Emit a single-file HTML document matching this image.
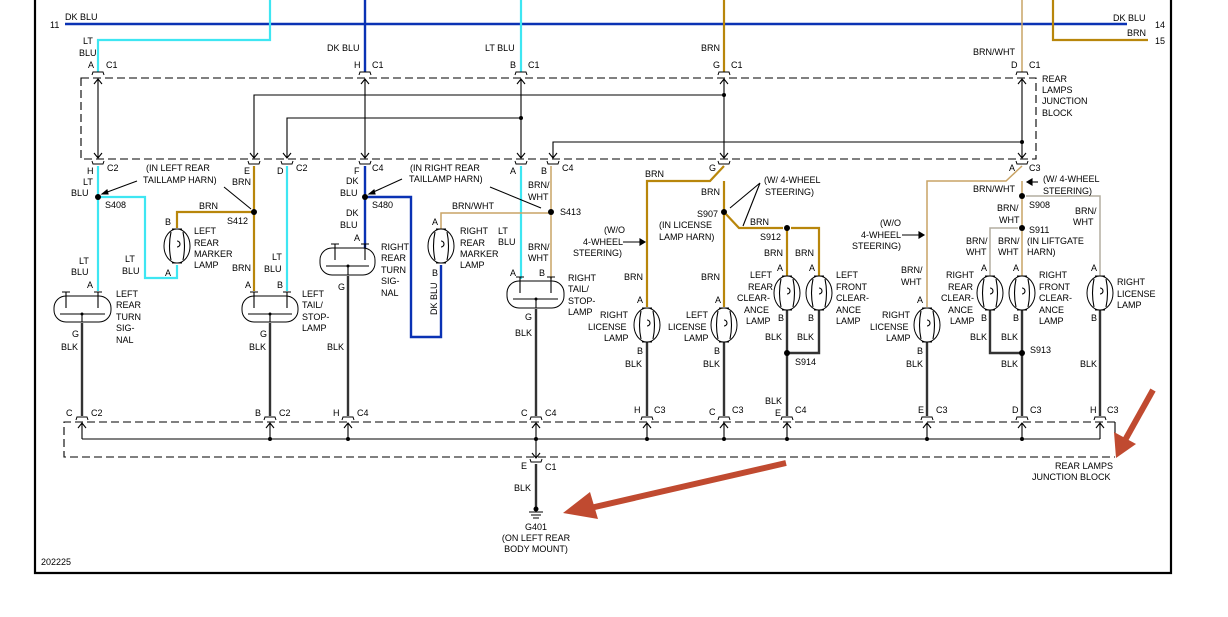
<!DOCTYPE html>
<html><head><meta charset="utf-8"><style>
html,body{margin:0;padding:0;background:#fff;width:1228px;height:617px;overflow:hidden}
svg{display:block}
text{font-family:"Liberation Sans",sans-serif;font-size:9px;fill:#000}
.lb{stroke:#3ee6f2;stroke-width:2.2;fill:none}
.db{stroke:#0a32b4;stroke-width:2.4;fill:none}
.br{stroke:#b8860b;stroke-width:2.2;fill:none}
.bw{stroke:#c9a466;stroke-width:1.5;fill:none}
.gw{stroke:#b4ada0;stroke-width:1.5;fill:none}
.bk{stroke:#333;stroke-width:2.4;fill:none}
.th{stroke:#000;stroke-width:1.1;fill:none}
.ds{stroke:#000;stroke-width:1.1;fill:none;stroke-dasharray:8 4}
.cap{stroke:#000;stroke-width:1;fill:#fff}
.lamp{stroke:#000;stroke-width:1;fill:#fff}
</style></head><body>
<svg width="1228" height="617" viewBox="0 0 1228 617" xmlns="http://www.w3.org/2000/svg">
<!-- border -->
<path d="M35 0 V573 H1171 V0" stroke="#000" stroke-width="2.2" fill="none"/>

<!-- dashed boxes -->
<path class="ds" d="M81 78 H1036 V159 H81 Z"/>
<path class="ds" d="M1115 422 H64 V457 H1115"/>
<path class="th" d="M1115 422 V433"/>

<!-- top wires -->
<path class="db" d="M65 24 H1127"/>
<path class="db" d="M365 0 V72"/>
<path class="lb" d="M270 0 V40 H98 V72"/>
<path class="lb" d="M521 0 V72"/>
<path class="br" d="M724 0 V72"/>
<path class="bw" d="M1022 0 V72"/>
<path class="br" d="M1053 0 V40 H1148"/>

<!-- inner box wiring -->
<path class="th" d="M98 79 V158 M365 79 V158 M521 79 V158 M724 79 V158 M1022 79 V158"/>
<path class="th" d="M254 158 V95 H724 M287 158 V118 H521 M553 158 V142 H1022"/>
<g class="th">
<path d="M94 84 L98 79 L102 84 M361 84 L365 79 L369 84 M517 84 L521 79 L525 84 M720 84 L724 79 L728 84 M1018 84 L1022 79 L1026 84"/>
<path d="M94 153 L98 158 L102 153 M250 153 L254 158 L258 153 M283 153 L287 158 L291 153 M361 153 L365 158 L369 153 M517 153 L521 158 L525 153 M549 153 L553 158 L557 153 M720 153 L724 158 L728 153 M1018 153 L1022 158 L1026 153"/>
</g>

<!-- lower wires -->
<path class="lb" d="M98 166 V291"/>
<path class="lb" d="M98 197 H145 V278 H177 V265"/>
<path class="lb" d="M287 166 V291"/>
<path class="lb" d="M521 166 V279"/>
<path class="db" d="M365 166 V248"/>
<path class="db" d="M365 197 H411 V337 H441 V265"/>
<path class="br" d="M254 166 V291"/>
<path class="br" d="M177 228 V212 H254"/>
<path class="br" d="M724 166 L710 181 H647 V307"/>
<path class="br" d="M724 181 V307"/>
<path class="br" d="M724 212 L739 228 H783 M791 228 H819 V276"/>
<path class="br" d="M787 228 V276"/>
<path class="bw" d="M441 229 V213 H551"/>
<path class="bw" d="M551 166 V279"/>
<path class="bw" d="M1022 166 L1006 181 H927 V307"/>
<path class="bw" d="M1022 181 V276"/>
<path class="gw" d="M1026 196 H1100 V276"/>
<path class="gw" d="M1018 228 H990 V276"/>

<!-- black grounds -->
<path class="bk" d="M82 323 V416 M270 323 V416 M348 276 V416 M536 309 V416 M647 342 V416 M724 342 V416 M787 310 V416 M927 342 V416 M1022 310 V416 M1100 310 V416"/>
<path class="bk" d="M819 310 V353 H787 M990 310 V353 H1022"/>
<path class="bk" d="M536 464 V507"/>

<!-- bottom inner -->
<path class="th" d="M82 439 H1100 M82 423 V439 M270 423 V439 M348 423 V439 M536 423 V458 M647 423 V439 M724 423 V439 M787 423 V439 M927 423 V439 M1022 423 V439 M1100 423 V439"/>
<path class="th" d="M78 428 L82 423 L86 428 M266 428 L270 423 L274 428 M344 428 L348 423 L352 428 M532 428 L536 423 L540 428 M643 428 L647 423 L651 428 M720 428 L724 423 L728 428 M783 428 L787 423 L791 428 M923 428 L927 423 L931 428 M1018 428 L1022 423 L1026 428 M1096 428 L1100 423 L1104 428 M532 453 L536 458 L540 453"/>

<!-- connector caps -->
<g class="cap">
<path d="M92 75 l1 -3 h10 l1 3 M359 75 l1 -3 h10 l1 3 M515 75 l1 -3 h10 l1 3 M718 75 l1 -3 h10 l1 3 M1016 75 l1 -3 h10 l1 3"/>
<path d="M92 161 l1 3 h10 l1 -3 M248 161 l1 3 h10 l1 -3 M281 161 l1 3 h10 l1 -3 M359 161 l1 3 h10 l1 -3 M515 161 l1 3 h10 l1 -3 M547 161 l1 3 h10 l1 -3 M718 161 l1 3 h10 l1 -3 M1016 161 l1 3 h10 l1 -3"/>
<path d="M76 420 l1 -3 h10 l1 3 M264 420 l1 -3 h10 l1 3 M342 420 l1 -3 h10 l1 3 M530 420 l1 -3 h10 l1 3 M641 420 l1 -3 h10 l1 3 M718 420 l1 -3 h10 l1 3 M781 420 l1 -3 h10 l1 3 M921 420 l1 -3 h10 l1 3 M1016 420 l1 -3 h10 l1 3 M1094 420 l1 -3 h10 l1 3"/>
<path d="M530 459 l1 3 h10 l1 -3"/>
</g>

<!-- dots -->
<g fill="#000">
<circle cx="724" cy="95" r="2"/><circle cx="521" cy="118" r="2"/><circle cx="1022" cy="142" r="2"/>
<circle cx="98" cy="197" r="3"/><circle cx="254" cy="212" r="3"/><circle cx="365" cy="197" r="3"/><circle cx="551" cy="212" r="3"/>
<circle cx="724" cy="212" r="3"/><circle cx="787" cy="228" r="3"/><circle cx="1022" cy="196" r="3"/><circle cx="1022" cy="228" r="3"/>
<circle cx="787" cy="353" r="3"/><circle cx="1022" cy="353" r="3"/>
<circle cx="270" cy="439" r="2"/><circle cx="348" cy="439" r="2"/><circle cx="536" cy="439" r="2"/><circle cx="647" cy="439" r="2"/><circle cx="724" cy="439" r="2"/><circle cx="787" cy="439" r="2"/><circle cx="927" cy="439" r="2"/><circle cx="1022" cy="439" r="2"/>
</g>

<!-- round lamps -->
<g class="lamp">
<ellipse cx="177" cy="246" rx="13" ry="17"/><ellipse cx="441" cy="246" rx="13" ry="17"/>
<ellipse cx="787" cy="293" rx="13" ry="17"/><ellipse cx="819" cy="293" rx="13" ry="17"/>
<ellipse cx="647" cy="325" rx="13" ry="17"/><ellipse cx="724" cy="325" rx="13" ry="17"/>
<ellipse cx="927" cy="325" rx="13" ry="17"/><ellipse cx="990" cy="293" rx="13" ry="17"/>
<ellipse cx="1022" cy="293" rx="13" ry="17"/><ellipse cx="1100" cy="293" rx="13" ry="17"/>
</g>
<g class="th" stroke-width="0.9">
<path d="M171 232 q-3 14 0 28 M183 232 q3 14 0 28 M177 241 a3 3 0 1 1 0 6"/>
<path d="M435 232 q-3 14 0 28 M447 232 q3 14 0 28 M441 241 a3 3 0 1 1 0 6"/>
<path d="M781 279 q-3 14 0 28 M793 279 q3 14 0 28 M787 288 a3 3 0 1 1 0 6"/>
<path d="M813 279 q-3 14 0 28 M825 279 q3 14 0 28 M819 288 a3 3 0 1 1 0 6"/>
<path d="M641 311 q-3 14 0 28 M653 311 q3 14 0 28 M647 320 a3 3 0 1 1 0 6"/>
<path d="M718 311 q-3 14 0 28 M730 311 q3 14 0 28 M724 320 a3 3 0 1 1 0 6"/>
<path d="M921 311 q-3 14 0 28 M933 311 q3 14 0 28 M927 320 a3 3 0 1 1 0 6"/>
<path d="M984 279 q-3 14 0 28 M996 279 q3 14 0 28 M990 288 a3 3 0 1 1 0 6"/>
<path d="M1016 279 q-3 14 0 28 M1028 279 q3 14 0 28 M1022 288 a3 3 0 1 1 0 6"/>
<path d="M1094 279 q-3 14 0 28 M1106 279 q3 14 0 28 M1100 288 a3 3 0 1 1 0 6"/>
</g>
<g class="cap">
<path d="M172 229 h10 M172 263 h10 M436 229 h10 M436 263 h10 M782 276 h10 M782 310 h10 M814 276 h10 M814 310 h10 M642 308 h10 M642 342 h10 M719 308 h10 M719 342 h10 M922 308 h10 M922 342 h10 M985 276 h10 M985 310 h10 M1017 276 h10 M1017 310 h10 M1095 276 h10 M1095 310 h10"/>
</g>

<!-- rect lamps -->
<g class="lamp">
<rect x="54" y="296" width="57" height="26" rx="12"/>
<rect x="242" y="296" width="56" height="26" rx="12"/>
<rect x="320" y="248" width="55" height="27" rx="12"/>
<rect x="507" y="281" width="57" height="27" rx="12"/>
</g>
<g class="th" stroke-width="0.9">
<path d="M60 314 H105 M82 314 V322 M66 292 V308 M98 292 V308 M62 292 h8 M94 292 h8"/>
<path d="M248 314 H292 M270 314 V322 M254 292 V308 M287 292 V308 M250 292 h8 M283 292 h8"/>
<path d="M326 266 H369 M348 266 V275 M335 244 V260 M365 244 V260 M331 244 h8 M361 244 h8"/>
<path d="M513 299 H558 M536 299 V308 M520 277 V293 M551 277 V293 M516 277 h8 M547 277 h8"/>
</g>
<g fill="#000"><circle cx="82" cy="314" r="1.5"/><circle cx="270" cy="314" r="1.5"/><circle cx="348" cy="266" r="1.5"/><circle cx="536" cy="299" r="1.5"/></g>

<!-- ground symbol -->
<path class="th" d="M529 512 h14 M531 515 h10 M533 518 h6"/>
<circle cx="536" cy="509" r="2.5" fill="#000"/>

<!-- small pointer arrows -->
<g class="th" stroke-width="0.9">
<path d="M137 181 L102 194"/><path d="M102 194 l5 -4 l1 4 z" fill="#000"/>
<path d="M224 187 L251 209"/>
<path d="M402 179 L369 194"/><path d="M369 194 l5 -4 l1 4 z" fill="#000"/>
<path d="M490 187 L541 208"/>
<path d="M760 183 L730 208 M760 183 L743 226"/>
<path d="M623 242 H645"/><path d="M645 242 l-5 -3 v6 z" fill="#000"/>
<path d="M902 235 H924"/><path d="M924 235 l-5 -3 v6 z" fill="#000"/>
<path d="M1038 182 H1028"/><path d="M1027 182 l5 -3 v6 z" fill="#000"/>
</g>

<!-- red arrows -->
<path d="M786 463 L586 509" stroke="#c04a30" stroke-width="6" fill="none"/>
<path d="M563 513 L590 492 L598 519 Z" fill="#c04a30"/>
<path d="M1153 390 L1124 442" stroke="#c04a30" stroke-width="6" fill="none"/>
<path d="M1116 458 L1114 432 L1136 444 Z" fill="#c04a30"/>

<!-- text -->
<g>
<text x="65" y="20">DK BLU</text><text x="50" y="28">11</text>
<text x="1113" y="21">DK BLU</text><text x="1155" y="28">14</text>
<text x="1127" y="36">BRN</text><text x="1155" y="44">15</text>
<text x="83" y="44">LT</text><text x="79" y="56">BLU</text>
<text x="88" y="68">A</text><text x="106" y="68">C1</text>
<text x="327" y="51">DK BLU</text><text x="354" y="68">H</text><text x="372" y="68">C1</text>
<text x="485" y="51">LT BLU</text><text x="510" y="68">B</text><text x="528" y="68">C1</text>
<text x="701" y="51">BRN</text><text x="713" y="68">G</text><text x="731" y="68">C1</text>
<text x="973" y="55">BRN/WHT</text><text x="1011" y="68">D</text><text x="1029" y="68">C1</text>
<text x="1042" y="82">REAR</text><text x="1042" y="93">LAMPS</text><text x="1042" y="104">JUNCTION</text><text x="1042" y="116">BLOCK</text>

<text x="87" y="174">H</text><text x="107" y="171">C2</text>
<text x="83" y="185">LT</text><text x="71" y="196">BLU</text><text x="105" y="208">S408</text>
<text x="146" y="171">(IN LEFT REAR</text><text x="143" y="183">TAILLAMP HARN)</text>
<text x="244" y="174">E</text><text x="232" y="185">BRN</text>
<text x="277" y="174">D</text><text x="296" y="171">C2</text>
<text x="199" y="209">BRN</text><text x="227" y="224">S412</text>
<text x="165" y="225">B</text>
<text x="194" y="234">LEFT</text><text x="194" y="246">REAR</text><text x="194" y="257">MARKER</text><text x="194" y="268">LAMP</text>
<text x="79" y="264">LT</text><text x="71" y="275">BLU</text>
<text x="125" y="262">LT</text><text x="122" y="274">BLU</text><text x="165" y="276">A</text>
<text x="87" y="288">A</text>
<text x="116" y="297">LEFT</text><text x="116" y="308">REAR</text><text x="116" y="320">TURN</text><text x="116" y="331">SIG-</text><text x="116" y="343">NAL</text>
<text x="72" y="337">G</text><text x="61" y="350">BLK</text>
<text x="232" y="271">BRN</text><text x="272" y="260">LT</text><text x="264" y="272">BLU</text>
<text x="245" y="288">A</text><text x="277" y="288">B</text>
<text x="302" y="297">LEFT</text><text x="302" y="308">TAIL/</text><text x="302" y="320">STOP-</text><text x="302" y="331">LAMP</text>
<text x="260" y="337">G</text><text x="249" y="350">BLK</text>

<text x="354" y="174">F</text><text x="372" y="171">C4</text>
<text x="346" y="184">DK</text><text x="340" y="196">BLU</text><text x="372" y="208">S480</text>
<text x="346" y="216">DK</text><text x="340" y="228">BLU</text><text x="354" y="241">A</text>
<text x="410" y="171">(IN RIGHT REAR</text><text x="409" y="182">TAILLAMP HARN)</text>
<text x="381" y="250">RIGHT</text><text x="381" y="261">REAR</text><text x="381" y="273">TURN</text><text x="381" y="284">SIG-</text><text x="381" y="296">NAL</text>
<text x="338" y="290">G</text><text x="327" y="350">BLK</text>
<text x="437" y="315" transform="rotate(-90 437 315)">DK BLU</text>
<text x="452" y="209">BRN/WHT</text><text x="432" y="225">A</text><text x="432" y="276">B</text>
<text x="460" y="234">RIGHT</text><text x="460" y="246">REAR</text><text x="460" y="257">MARKER</text><text x="460" y="268">LAMP</text>
<text x="498" y="234">LT</text><text x="498" y="245">BLU</text>
<text x="510" y="174">A</text><text x="541" y="174">B</text><text x="562" y="171">C4</text>
<text x="528" y="188">BRN/</text><text x="528" y="200">WHT</text><text x="560" y="215">S413</text>
<text x="528" y="250">BRN/</text><text x="528" y="261">WHT</text>
<text x="510" y="276">A</text><text x="539" y="276">B</text>
<text x="568" y="281">RIGHT</text><text x="568" y="292">TAIL/</text><text x="568" y="304">STOP-</text><text x="568" y="315">LAMP</text>
<text x="525" y="320">G</text><text x="515" y="336">BLK</text>

<text x="645" y="177">BRN</text><text x="709" y="171">G</text>
<text x="701" y="195">BRN</text>
<text x="764" y="183">(W/ 4-WHEEL</text><text x="765" y="195">STEERING)</text>
<text x="697" y="217">S907</text><text x="659" y="228">(IN LICENSE</text><text x="659" y="240">LAMP HARN)</text>
<text x="750" y="225">BRN</text><text x="760" y="240">S912</text>
<text x="604" y="233">(W/O</text><text x="583" y="245">4-WHEEL</text><text x="573" y="256">STEERING)</text>
<text x="624" y="280">BRN</text><text x="701" y="280">BRN</text>
<text x="764" y="256">BRN</text><text x="795" y="256">BRN</text>
<text x="777" y="271">A</text><text x="809" y="271">A</text>
<text x="750" y="278">LEFT</text><text x="748" y="290">REAR</text><text x="737" y="301">CLEAR-</text><text x="744" y="313">ANCE</text><text x="746" y="324">LAMP</text>
<text x="836" y="278">LEFT</text><text x="836" y="290">FRONT</text><text x="836" y="301">CLEAR-</text><text x="836" y="313">ANCE</text><text x="836" y="324">LAMP</text>
<text x="778" y="321">B</text><text x="808" y="321">B</text>
<text x="765" y="340">BLK</text><text x="797" y="340">BLK</text><text x="795" y="365">S914</text>
<text x="637" y="303">A</text><text x="715" y="303">A</text>
<text x="600" y="318">RIGHT</text><text x="588" y="330">LICENSE</text><text x="604" y="341">LAMP</text>
<text x="686" y="318">LEFT</text><text x="668" y="330">LICENSE</text><text x="684" y="341">LAMP</text>
<text x="637" y="354">B</text><text x="714" y="354">B</text>
<text x="625" y="367">BLK</text><text x="703" y="367">BLK</text>

<text x="1009" y="171">A</text><text x="1029" y="171">C3</text>
<text x="1043" y="182">(W/ 4-WHEEL</text><text x="1043" y="194">STEERING)</text>
<text x="973" y="192">BRN/WHT</text><text x="1029" y="208">S908</text>
<text x="997" y="211">BRN/</text><text x="999" y="223">WHT</text>
<text x="1075" y="214">BRN/</text><text x="1073" y="225">WHT</text>
<text x="1029" y="233">S911</text><text x="1027" y="244">(IN LIFTGATE</text><text x="1027" y="255">HARN)</text>
<text x="880" y="226">(W/O</text><text x="861" y="238">4-WHEEL</text><text x="852" y="249">STEERING)</text>
<text x="966" y="244">BRN/</text><text x="966" y="255">WHT</text><text x="998" y="244">BRN/</text><text x="998" y="255">WHT</text>
<text x="901" y="273">BRN/</text><text x="901" y="285">WHT</text>
<text x="981" y="271">A</text><text x="1013" y="271">A</text><text x="1091" y="271">A</text>
<text x="946" y="278">RIGHT</text><text x="948" y="290">REAR</text><text x="941" y="301">CLEAR-</text><text x="948" y="313">ANCE</text><text x="950" y="324">LAMP</text>
<text x="1039" y="278">RIGHT</text><text x="1039" y="290">FRONT</text><text x="1039" y="301">CLEAR-</text><text x="1039" y="313">ANCE</text><text x="1039" y="324">LAMP</text>
<text x="1117" y="285">RIGHT</text><text x="1117" y="297">LICENSE</text><text x="1117" y="308">LAMP</text>
<text x="981" y="321">B</text><text x="1013" y="321">B</text><text x="1091" y="321">B</text>
<text x="917" y="303">A</text>
<text x="882" y="318">RIGHT</text><text x="870" y="330">LICENSE</text><text x="886" y="341">LAMP</text>
<text x="917" y="354">B</text><text x="906" y="367">BLK</text>
<text x="970" y="340">BLK</text><text x="1001" y="340">BLK</text><text x="1030" y="353">S913</text>
<text x="1001" y="367">BLK</text><text x="1080" y="367">BLK</text>

<text x="66" y="416">C</text><text x="91" y="416">C2</text>
<text x="255" y="416">B</text><text x="279" y="416">C2</text>
<text x="333" y="416">H</text><text x="357" y="416">C4</text>
<text x="521" y="416">C</text><text x="545" y="416">C4</text>
<text x="634" y="413">H</text><text x="654" y="413">C3</text>
<text x="709" y="415">C</text><text x="732" y="413">C3</text>
<text x="765" y="404">BLK</text><text x="775" y="416">E</text><text x="795" y="413">C4</text>
<text x="918" y="413">E</text><text x="936" y="413">C3</text>
<text x="1012" y="413">D</text><text x="1030" y="413">C3</text>
<text x="1090" y="413">H</text><text x="1107" y="413">C3</text>
<text x="1055" y="469">REAR LAMPS</text><text x="1032" y="480">JUNCTION BLOCK</text>
<text x="521" y="469">E</text><text x="545" y="470">C1</text>
<text x="514" y="491">BLK</text>
<text x="536" y="530" text-anchor="middle">G401</text>
<text x="536" y="541" text-anchor="middle">(ON LEFT REAR</text>
<text x="536" y="552" text-anchor="middle">BODY MOUNT)</text>
<text x="41" y="565">202225</text>
</g>
</svg>
</body></html>
